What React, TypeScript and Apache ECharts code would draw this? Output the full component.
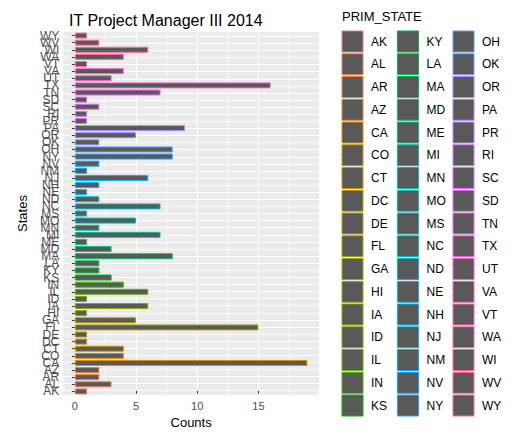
import React, { useEffect, useRef } from 'react'
import * as echarts from 'echarts'

const states = [
  'AK', 'AL', 'AR', 'AZ', 'CA', 'CO', 'CT', 'DC', 'DE', 'FL', 'GA', 'HI', 'IA', 'ID', 'IL', 'IN', 'KS',
  'KY', 'LA', 'MA', 'MD', 'ME', 'MI', 'MN', 'MO', 'MS', 'NC', 'ND', 'NE', 'NH', 'NJ', 'NM', 'NV', 'NY',
  'OH', 'OK', 'OR', 'PA', 'PR', 'RI', 'SC', 'SD', 'TN', 'TX', 'UT', 'VA', 'VT', 'WA', 'WI', 'WV', 'WY'
]
const counts = [
  1, 3, 2, 2, 19, 4, 4, 1, 1, 15, 5, 1, 6, 1, 6, 4, 3,
  2, 2, 8, 3, 1, 7, 2, 5, 1, 7, 2, 1, 2, 6, 1, 2, 8,
  8, 2, 5, 9, 1, 1, 2, 1, 7, 16, 3, 4, 1, 4, 6, 2, 1
]
const xTicks = [0, 5, 10, 15]
const xMinor = [2.5, 7.5, 12.5, 17.5]

const FONT = '"Liberation Sans", Arial, sans-serif'

// ggplot2 default hue palette: hcl(h, c = 100, l = 65)
const hcl = (h: number, c = 100, l = 65) => {
  const hr = (h * Math.PI) / 180
  const u = c * Math.cos(hr)
  const v = c * Math.sin(hr)
  const Xn = 0.95047, Yn = 1, Zn = 1.08883
  const d = Xn + 15 * Yn + 3 * Zn
  const un = (4 * Xn) / d
  const vn = (9 * Yn) / d
  const Y = Yn * Math.pow((l + 16) / 116, 3)
  const up = u / (13 * l) + un
  const vp = v / (13 * l) + vn
  const X = (Y * 9 * up) / (4 * vp)
  const Z = (Y * (12 - 3 * up - 20 * vp)) / (4 * vp)
  const lin = [
    3.2404542 * X - 1.5371385 * Y - 0.4985314 * Z,
    -0.969266 * X + 1.8760108 * Y + 0.041556 * Z,
    0.0556434 * X - 0.2040259 * Y + 1.0572252 * Z
  ]
  return '#' + lin.map((x) => {
    const g = x <= 0.0031308 ? 12.92 * x : 1.055 * Math.pow(x, 1 / 2.4) - 0.055
    const n = Math.round(Math.max(0, Math.min(1, g)) * 255)
    return n.toString(16).padStart(2, '0')
  }).join('')
}

const colors = states.map((_, i) => hcl(15 + (360 * i) / states.length))

const App: React.FC = () => {
  const chartRef = useRef<HTMLDivElement>(null)

  useEffect(() => {
    if (!chartRef.current) return
    const chart = echarts.init(chartRef.current, null, { renderer: 'svg' })

    // legend: 3 columns of 17 keys
    const legend: any[] = []
    const perCol = 17
    states.forEach((s, i) => {
      const col = Math.floor(i / perCol)
      const row = i % perCol
      const x = 334 + col * 55.5
      const y = 23 + row * 22.75
      legend.push({
        type: 'rect',
        shape: { x, y, width: 21, height: 21 },
        style: { fill: '#595959', stroke: colors[i], lineWidth: 1 }
      })
      legend.push({
        type: 'text',
        x: x + 29,
        y: y + 10.5,
        style: { text: s, font: `12px ${FONT}`, fill: '#000', verticalAlign: 'middle' }
      })
    })
    legend.push({
      type: 'text',
      x: 334,
      y: 8,
      style: { text: 'PRIM_STATE', font: `13px ${FONT}`, fill: '#000', verticalAlign: 'middle' }
    })

    chart.setOption({
      animation: false,
      backgroundColor: '#fff',
      textStyle: { fontFamily: FONT },
      title: {
        text: 'IT Project Manager III 2014',
        left: 56,
        top: -1,
        textStyle: { fontSize: 16, fontWeight: 'normal', color: '#000', fontFamily: FONT }
      },
      grid: { left: 42, top: 24, width: 269, height: 368, backgroundColor: '#ebebeb', show: true, borderWidth: 0 },
      xAxis: [
        {
          type: 'value',
          min: -0.95,
          max: 19.95,
          name: 'Counts',
          nameLocation: 'middle',
          nameGap: 21,
          nameTextStyle: { fontSize: 13, color: '#000' },
          axisLine: { show: false },
          axisTick: { show: true, customValues: xTicks, length: 3, lineStyle: { color: '#333' } },
          axisLabel: { customValues: xTicks, color: '#4d4d4d', fontSize: 11, margin: 5 },
          splitLine: { show: true, lineStyle: { color: '#fff', width: 1.1 } }
        },
        {
          type: 'value',
          min: -0.95,
          max: 19.95,
          position: 'bottom',
          axisLine: { show: false },
          axisTick: { show: false, customValues: xMinor },
          axisLabel: { show: false, customValues: xMinor },
          splitLine: { show: true, lineStyle: { color: '#fff', width: 0.5 } }
        }
      ],
      yAxis: [
        {
          type: 'category',
          data: states,
          name: 'States',
          nameLocation: 'middle',
          nameGap: 30,
          nameRotate: 90,
          nameTextStyle: { fontSize: 13, color: '#000' },
          axisLine: { show: false },
          axisTick: { show: true, alignWithLabel: true, length: 3, lineStyle: { color: '#333' } },
          axisLabel: { interval: 0, color: '#4d4d4d', fontSize: 12, margin: 4 },
          splitLine: { show: false }
        },
        {
          type: 'value',
          min: -0.6,
          max: states.length - 0.4,
          position: 'left',
          axisLine: { show: false },
          axisTick: { show: false, customValues: states.map((_, i) => i) },
          axisLabel: { show: false, customValues: states.map((_, i) => i) },
          splitLine: { show: true, lineStyle: { color: '#fff', width: 1.1 } }
        }
      ],
      series: [
        {
          type: 'bar',
          barWidth: 6,
          xAxisIndex: 0,
          yAxisIndex: 0,
          data: counts.map((c, i) => ({
            value: c,
            itemStyle: { color: '#595959', borderColor: colors[i], borderWidth: 1 }
          }))
        }
      ],
      graphic: legend
    })

    return () => chart.dispose()
  }, [])

  return <div ref={chartRef} style={{ width: 500, height: 426 }} />
}

export default App
